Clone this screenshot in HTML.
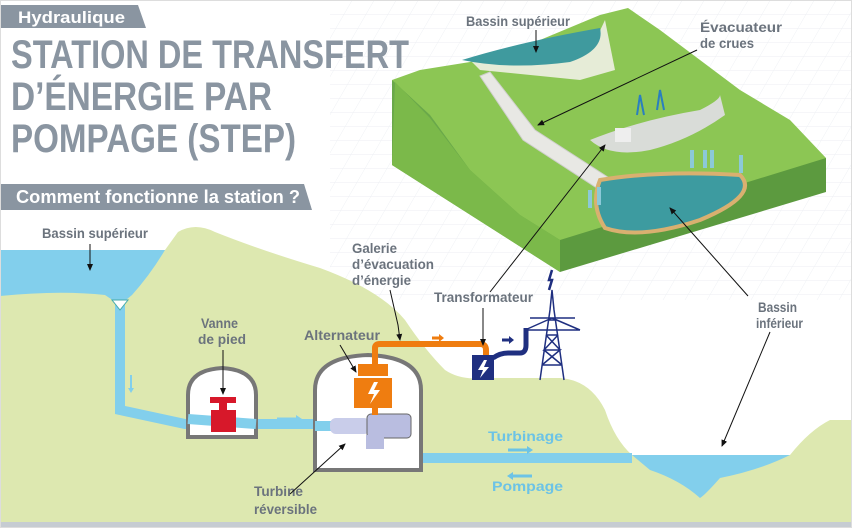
<!DOCTYPE html>
<html><head><meta charset="utf-8"><style>
html,body{margin:0;padding:0;background:#fff}
svg{display:block}
.t{font-family:"Liberation Sans",sans-serif;font-weight:bold;fill:#6b737d}
.tt{font-family:"Liberation Sans",sans-serif;font-weight:bold;fill:#8a95a1}
</style></head><body>
<svg width="852" height="528" viewBox="0 0 852 528" xmlns="http://www.w3.org/2000/svg">
<defs>
<pattern id="g" width="22" height="14" patternUnits="userSpaceOnUse" patternTransform="skewX(-30)">
<path d="M0 0H22M0 0V14" stroke="#e6e9ef" stroke-width="1" fill="none"/></pattern>
<marker id="a" markerWidth="8" markerHeight="8" refX="6" refY="4" orient="auto"><path d="M0 1L7 4L0 7z" fill="#111"/></marker>
</defs>
<rect width="852" height="528" fill="#fff"/>
<rect x="330" y="0" width="522" height="300" fill="url(#g)" opacity="0.7"/>
<!-- 3D block -->
<polygon points="392,80 560,172 560,272 392,165" fill="#6aa84a"/>
<polygon points="560,172 826,158 826,192 560,272" fill="#5c9a3f"/>
<polygon points="392,80 420,70 470,62 540,40 600,15 628,8 660,30 700,60 740,90 790,120 826,158 560,240 520,215 470,170 430,115" fill="#8cc654"/>
<polygon points="395,82 430,118 470,170 520,215 560,240 560,272 392,165" fill="#7bb94a"/>
<path d="M470 60 L590 52 L605 20 L615 70 L580 80 L480 70z" fill="#f0efe6" opacity="0.9"/>
<path d="M462 60 Q520 42 600 28 Q605 50 570 62 Q510 70 462 60z" fill="#3f9a9e"/>
<path d="M490 72 L535 130 L620 185 L606 194 L523 140 L480 76z" fill="#e8e8e4" stroke="#cfcfcc"/>
<path d="M600 180 Q660 170 740 175 Q760 195 700 220 Q640 240 605 228 Q590 205 600 180z" fill="#3d9ba0" stroke="#d9b070" stroke-width="4"/>
<path d="M590 140 Q640 120 700 110 Q720 100 720 95 L725 115 Q690 140 650 150 Q610 158 590 140z" fill="#d9dcd8"/>
<rect x="615" y="128" width="16" height="14" fill="#eee"/>
<path d="M637 115 L640 95 L644 115 M657 110 L660 90 L664 110" stroke="#2a7fbf" stroke-width="2" fill="none"/>
<g fill="#8cc9d8"><rect x="690" y="150" width="4" height="18"/><rect x="703" y="150" width="4" height="18"/><rect x="710" y="150" width="4" height="18"/><rect x="739" y="155" width="4" height="18"/><rect x="588" y="190" width="4" height="18"/><rect x="597" y="187" width="4" height="18"/></g>
<text class="t" x="466" y="26" font-size="14" textLength="104" lengthAdjust="spacingAndGlyphs">Bassin supérieur</text>
<text class="t" x="700" y="32" font-size="14" textLength="82" lengthAdjust="spacingAndGlyphs">Évacuateur</text>
<text class="t" x="700" y="48" font-size="14" textLength="54" lengthAdjust="spacingAndGlyphs">de crues</text>
<line x1="536" y1="30" x2="536" y2="52" stroke="#111" marker-end="url(#a)"/>
<line x1="697" y1="50" x2="538" y2="125" stroke="#111" marker-end="url(#a)"/>
<!-- title -->
<path d="M0 5H138L146 28H0z" fill="#8a95a1"/>
<text x="18" y="23" font-family="Liberation Sans,sans-serif" font-weight="bold" font-size="17" fill="#fff" textLength="107" lengthAdjust="spacingAndGlyphs">Hydraulique</text>
<text class="tt" x="11" y="68" font-size="40" textLength="398" lengthAdjust="spacingAndGlyphs">STATION DE TRANSFERT</text>
<text class="tt" x="11" y="110" font-size="40" textLength="261" lengthAdjust="spacingAndGlyphs">D’ÉNERGIE PAR</text>
<text class="tt" x="11" y="152" font-size="40" textLength="285" lengthAdjust="spacingAndGlyphs">POMPAGE (STEP)</text>
<path d="M0 184H304L312 210H0z" fill="#8a95a1"/>
<text x="16" y="203" font-family="Liberation Sans,sans-serif" font-weight="bold" font-size="18" fill="#fff" textLength="284" lengthAdjust="spacingAndGlyphs">Comment fonctionne la station ?</text>
<!-- landscape -->
<path d="M0 250 H165 L178 232 Q195 222 215 232 Q260 250 320 268 Q380 290 405 320 Q425 350 445 370 Q460 380 480 378 H560 Q590 380 605 410 Q615 440 632 455 H790 Q810 430 830 420 H852 V522 H0z" fill="#dde8b0"/>
<path d="M0 250 H165 Q150 275 132 295 L120 305 L105 295 Q60 290 0 296z" fill="#82cfec"/>
<path d="M632 455 H790 Q760 470 720 478 Q705 495 700 498 Q680 480 650 470z" fill="#82cfec"/>
<rect x="0" y="522" width="852" height="6" fill="#c6ccd2"/>
<!-- tunnels -->
<path d="M120 305 V410 L185 424 H330" stroke="#82cfec" stroke-width="10" fill="none"/>
<path d="M378 440 V458 H632" stroke="#82cfec" stroke-width="10" fill="none"/>
<path d="M112 300 H128 L120 310z" fill="#fff" stroke="#4aa" stroke-width="1"/>
<path d="M131 375 V390" stroke="#82cfec" stroke-width="2"/><path d="M128 388 L131 393 L134 388" fill="#82cfec"/>
<!-- vanne house -->
<path d="M188 437 V395 Q188 370 222 368 Q256 370 256 395 V437z" fill="#fff" stroke="#777" stroke-width="4"/>
<path d="M188 419 L256 424" stroke="#82cfec" stroke-width="10"/>
<rect x="211" y="410" width="25" height="22" fill="#d7182a"/><rect x="219" y="400" width="8" height="10" fill="#d7182a"/><rect x="210" y="397" width="26" height="6" fill="#d7182a"/>
<path d="M277 419 H297" stroke="#82cfec" stroke-width="3"/><path d="M296 415 L302 419 L296 423" fill="#82cfec"/>
<!-- alternator house -->
<path d="M315 470 V390 Q315 357 368 355 Q421 357 421 390 V470z" fill="#fff" stroke="#777" stroke-width="4"/>
<path d="M315 426 H370" stroke="#82cfec" stroke-width="10"/>
<rect x="330" y="418" width="40" height="16" rx="6" fill="#c9cdea"/>
<rect x="367" y="414" width="44" height="24" rx="4" fill="#b9bde0" stroke="#666"/>
<rect x="366" y="435" width="18" height="14" fill="#b9bde0"/>
<rect x="372" y="395" width="6" height="20" fill="#ef7d10"/>
<rect x="354" y="378" width="38" height="30" fill="#ef7d10"/>
<rect x="358" y="364" width="30" height="12" fill="#ef7d10"/>
<path d="M374 382 L368 394 L374 394 L370 404 L380 390 L374 390 L378 382z" fill="#fff"/>
<path d="M375 364 V348 Q375 344 380 344 H480 Q486 344 486 350 V358" stroke="#ef7d10" stroke-width="6" fill="none"/>
<path d="M432 338 H440" stroke="#ef7d10" stroke-width="3"/><path d="M439 334 L444 338 L439 342" fill="#ef7d10"/>
<rect x="472" y="355" width="22" height="25" fill="#1f2f80"/>
<path d="M484 360 L478 370 L483 370 L480 378 L489 367 L484 367 L487 360z" fill="#fff"/>
<path d="M493 358 Q500 353 508 353 H520 Q526 353 526 345 V328" stroke="#1f2f80" stroke-width="5" fill="none"/>
<path d="M502 340 H510" stroke="#1f2f80" stroke-width="3"/><path d="M509 336 L514 340 L509 344" fill="#1f2f80"/>
<!-- pylon -->
<g stroke="#1f2f80" stroke-width="1.5" fill="none">
<path d="M540 380 L550 310 L552 290 L554 310 L564 380"/>
<path d="M542 365 L562 365 M544 350 L560 350 M546 335 L558 335 M548 320 L556 320 M542 365 L560 350 L544 350 L558 335 M562 365 L544 350 M560 350 L546 335"/>
<path d="M525 330 H580 M530 318 H575 M525 330 L552 318 M580 330 L552 318"/>
<path d="M552 270 L549 280 L552 280 L549 290" stroke-width="2.5"/>
</g>
<!-- labels -->
<g class="t" font-size="14">
<text x="42" y="238" textLength="106" lengthAdjust="spacingAndGlyphs">Bassin supérieur</text>
<text x="201" y="328" textLength="37" lengthAdjust="spacingAndGlyphs">Vanne</text><text x="198" y="344" textLength="48" lengthAdjust="spacingAndGlyphs">de pied</text>
<text x="304" y="340" textLength="76" lengthAdjust="spacingAndGlyphs">Alternateur</text>
<text x="352" y="253" textLength="45" lengthAdjust="spacingAndGlyphs">Galerie</text><text x="352" y="269" textLength="82" lengthAdjust="spacingAndGlyphs">d’évacuation</text><text x="352" y="285" textLength="59" lengthAdjust="spacingAndGlyphs">d’énergie</text>
<text x="434" y="302" textLength="99" lengthAdjust="spacingAndGlyphs">Transformateur</text>
<text x="758" y="312" textLength="39" lengthAdjust="spacingAndGlyphs">Bassin</text><text x="756" y="328" textLength="47" lengthAdjust="spacingAndGlyphs">inférieur</text>
<text x="254" y="496" textLength="49" lengthAdjust="spacingAndGlyphs">Turbine</text><text x="254" y="514" textLength="63" lengthAdjust="spacingAndGlyphs">réversible</text>
</g>
<text x="488" y="441" font-family="Liberation Sans,sans-serif" font-weight="bold" font-size="14" fill="#6cc3e6" textLength="75" lengthAdjust="spacingAndGlyphs">Turbinage</text>
<text x="492" y="491" font-family="Liberation Sans,sans-serif" font-weight="bold" font-size="14" fill="#6cc3e6" textLength="71" lengthAdjust="spacingAndGlyphs">Pompage</text>
<path d="M508 450 H528" stroke="#6cc3e6" stroke-width="3"/><path d="M527 446 L533 450 L527 454" fill="#6cc3e6"/>
<path d="M512 476 H532" stroke="#6cc3e6" stroke-width="3"/><path d="M513 472 L507 476 L513 480" fill="#6cc3e6"/>
<g stroke="#111" stroke-width="1" fill="none">
<line x1="90" y1="244" x2="90" y2="270" marker-end="url(#a)"/>
<line x1="223" y1="350" x2="223" y2="394" marker-end="url(#a)"/>
<line x1="340" y1="345" x2="356" y2="372" marker-end="url(#a)"/>
<path d="M390 290 L398 325 L400 340" marker-end="url(#a)"/>
<line x1="483" y1="308" x2="483" y2="345" marker-end="url(#a)"/>
<line x1="290" y1="494" x2="345" y2="444" marker-end="url(#a)"/>
<line x1="770" y1="332" x2="722" y2="446" marker-end="url(#a)"/>
<line x1="490" y1="292" x2="605" y2="145" marker-end="url(#a)"/>
<line x1="748" y1="296" x2="670" y2="208" marker-end="url(#a)"/>
</g>
<rect x="0.5" y="0.5" width="851" height="527" fill="none" stroke="#ddd"/>
</svg>
</body></html>
